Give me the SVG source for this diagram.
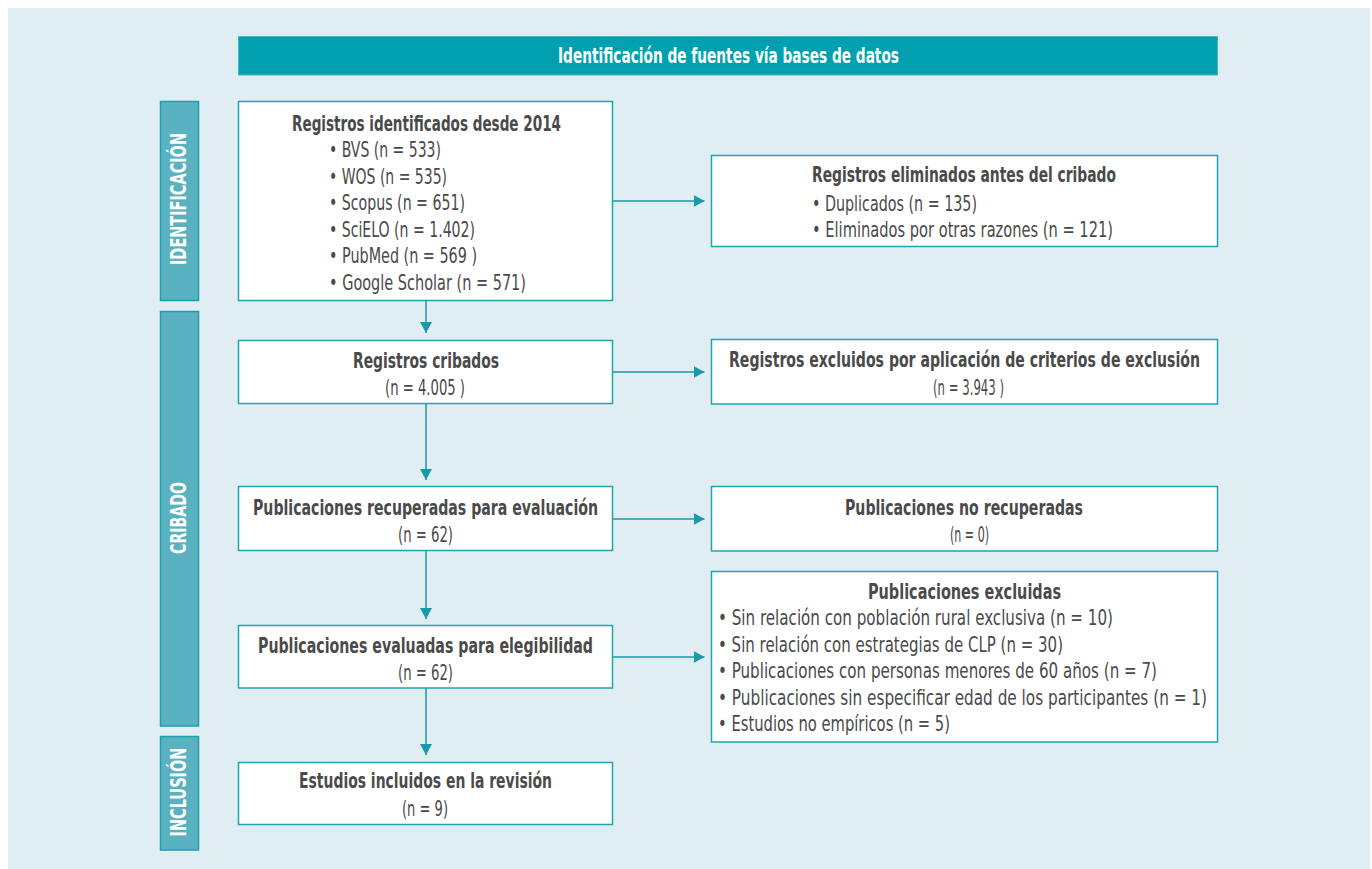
<svg xmlns="http://www.w3.org/2000/svg" width="1372" height="869" viewBox="0 0 1372 869">
<defs>
<style>
.t{font-family:"Liberation Sans Narrow","DejaVu Sans Condensed","Liberation Sans",sans-serif;font-stretch:condensed;fill:#4a4a4a;font-size:21px}
.b{font-weight:bold;font-size:21px}
.w{fill:#ffffff;font-weight:bold}
.box{fill:#ffffff;stroke:#1fa4b3;stroke-width:1.5}
.bar{fill:#5ab2c1;stroke:#17a0b0;stroke-width:1.5}
.c{stroke:#1a9aa8;stroke-width:1.5;fill:none;marker-end:url(#ah)}
</style>
<marker id="ah" markerWidth="12" markerHeight="12" refX="11" refY="6" orient="auto" markerUnits="userSpaceOnUse">
<path d="M0,0 L11,6 L0,12 z" fill="#1a9aa8"/>
</marker>
</defs>
<rect x="0" y="0" width="1372" height="869" fill="#ffffff"/>
<rect x="8" y="8" width="1362" height="861" fill="#e0edf2"/>

<g id="header">
<rect x="238.5" y="36.5" width="979" height="38.5" fill="#00a0b0" stroke="#45b6c3" stroke-width="1"/>
<text class="t w" font-size="21" x="558" y="63" textLength="341" lengthAdjust="spacingAndGlyphs">Identificación de fuentes vía bases de datos</text>
</g>

<g id="bar-identificacion">
<rect class="bar" x="160.5" y="101.5" width="38" height="199"/>
<text class="t w" font-size="18" transform="translate(186,199) rotate(-90)" text-anchor="middle" textLength="132" lengthAdjust="spacingAndGlyphs">IDENTIFICACIÓN</text>
</g>
<g id="bar-cribado">
<rect class="bar" x="160.5" y="311.5" width="38" height="414.5"/>
<text class="t w" font-size="18" transform="translate(186,518) rotate(-90)" text-anchor="middle" textLength="72" lengthAdjust="spacingAndGlyphs">CRIBADO</text>
</g>
<g id="bar-inclusion">
<rect class="bar" x="160.5" y="736.5" width="38" height="113.5"/>
<text class="t w" font-size="18" transform="translate(186,792) rotate(-90)" text-anchor="middle" textLength="89" lengthAdjust="spacingAndGlyphs">INCLUSIÓN</text>
</g>

<g id="connectors">
<line class="c" x1="426" y1="300.5" x2="426" y2="333"/>
<line class="c" x1="426" y1="403.5" x2="426" y2="480"/>
<line class="c" x1="426" y1="550.5" x2="426" y2="619"/>
<line class="c" x1="426" y1="688" x2="426" y2="755"/>
<line class="c" x1="612.5" y1="201" x2="704.5" y2="201"/>
<line class="c" x1="612.5" y1="372" x2="704.5" y2="372"/>
<line class="c" x1="612.5" y1="519" x2="704.5" y2="519"/>
<line class="c" x1="612.5" y1="657" x2="704.5" y2="657"/>
</g>

<g id="n-identificados">
<rect class="box" x="238.5" y="101.5" width="374" height="199"/>
<text class="t b" x="292" y="131" textLength="269" lengthAdjust="spacingAndGlyphs">Registros identificados desde 2014</text>
<text class="t" x="329" y="157" textLength="112" lengthAdjust="spacingAndGlyphs">• BVS (n = 533)</text>
<text class="t" x="329" y="183.5" textLength="118" lengthAdjust="spacingAndGlyphs">• WOS (n = 535)</text>
<text class="t" x="329" y="210" textLength="136" lengthAdjust="spacingAndGlyphs">• Scopus (n = 651)</text>
<text class="t" x="329" y="236.5" textLength="146" lengthAdjust="spacingAndGlyphs">• SciELO (n = 1.402)</text>
<text class="t" x="329" y="263" textLength="148" lengthAdjust="spacingAndGlyphs">• PubMed (n = 569 )</text>
<text class="t" x="329" y="289.5" textLength="197" lengthAdjust="spacingAndGlyphs">• Google Scholar (n = 571)</text>
</g>

<g id="n-eliminados">
<rect class="box" x="711.5" y="155.5" width="506" height="91"/>
<text class="t b" x="812" y="182" textLength="304" lengthAdjust="spacingAndGlyphs">Registros eliminados antes del cribado</text>
<text class="t" x="812" y="211" textLength="165" lengthAdjust="spacingAndGlyphs">• Duplicados (n = 135)</text>
<text class="t" x="812" y="237" textLength="301" lengthAdjust="spacingAndGlyphs">• Eliminados por otras razones (n = 121)</text>
</g>

<g id="n-cribados">
<rect class="box" x="238.5" y="340.5" width="374" height="63"/>
<text class="t b" x="353" y="368" textLength="146" lengthAdjust="spacingAndGlyphs">Registros cribados</text>
<text class="t" x="385" y="395" textLength="80" lengthAdjust="spacingAndGlyphs">(n = 4.005 )</text>
</g>

<g id="n-excluidos">
<rect class="box" x="711.5" y="339.5" width="506" height="64.5"/>
<text class="t b" x="729" y="367" textLength="471" lengthAdjust="spacingAndGlyphs">Registros excluidos por aplicación de criterios de exclusión</text>
<text class="t" x="933" y="395" textLength="71" lengthAdjust="spacingAndGlyphs">(n = 3.943 )</text>
</g>

<g id="n-recuperadas">
<rect class="box" x="238.5" y="486.5" width="374" height="64"/>
<text class="t b" x="253" y="515" textLength="345" lengthAdjust="spacingAndGlyphs">Publicaciones recuperadas para evaluación</text>
<text class="t" x="398" y="542" textLength="55" lengthAdjust="spacingAndGlyphs">(n = 62)</text>
</g>

<g id="n-no-recuperadas">
<rect class="box" x="711.5" y="486.5" width="506" height="64.5"/>
<text class="t b" x="845" y="515" textLength="238" lengthAdjust="spacingAndGlyphs">Publicaciones no recuperadas</text>
<text class="t" x="950" y="542" textLength="39" lengthAdjust="spacingAndGlyphs">(n = 0)</text>
</g>

<g id="n-evaluadas">
<rect class="box" x="238.5" y="625.5" width="374" height="62.5"/>
<text class="t b" x="258" y="653" textLength="335" lengthAdjust="spacingAndGlyphs">Publicaciones evaluadas para elegibilidad</text>
<text class="t" x="398" y="680" textLength="55" lengthAdjust="spacingAndGlyphs">(n = 62)</text>
</g>

<g id="n-excluidas">
<rect class="box" x="711.5" y="571.5" width="506" height="170.5"/>
<text class="t b" x="868" y="599" textLength="193" lengthAdjust="spacingAndGlyphs">Publicaciones excluidas</text>
<text class="t" x="718" y="625" textLength="395" lengthAdjust="spacingAndGlyphs">• Sin relación con población rural exclusiva (n = 10)</text>
<text class="t" x="718" y="651.5" textLength="345" lengthAdjust="spacingAndGlyphs">• Sin relación con estrategias de CLP (n = 30)</text>
<text class="t" x="718" y="678" textLength="439" lengthAdjust="spacingAndGlyphs">• Publicaciones con personas menores de 60 años (n = 7)</text>
<text class="t" x="718" y="705" textLength="489" lengthAdjust="spacingAndGlyphs">• Publicaciones sin especificar edad de los participantes (n = 1)</text>
<text class="t" x="718" y="731" textLength="232" lengthAdjust="spacingAndGlyphs">• Estudios no empíricos (n = 5)</text>
</g>

<g id="n-incluidos">
<rect class="box" x="238.5" y="762.5" width="374" height="62"/>
<text class="t b" x="299" y="788" textLength="253" lengthAdjust="spacingAndGlyphs">Estudios incluidos en la revisión</text>
<text class="t" x="402" y="816" textLength="46" lengthAdjust="spacingAndGlyphs">(n = 9)</text>
</g>
</svg>
